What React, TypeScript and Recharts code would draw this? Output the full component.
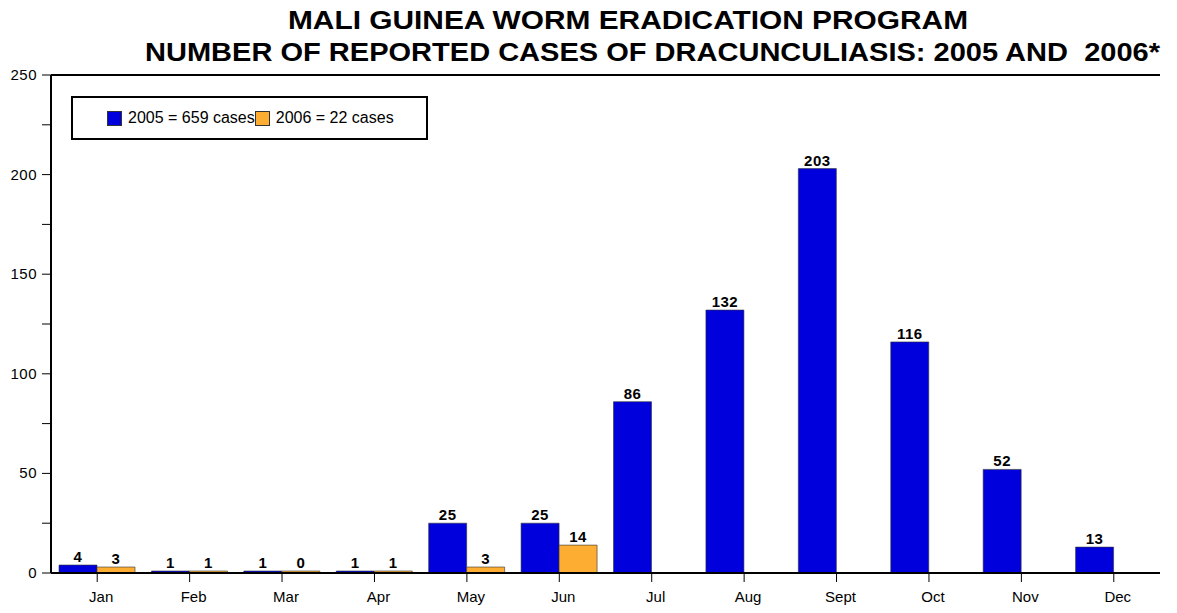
import { BarChart, Bar, XAxis, YAxis, ReferenceLine, LabelList, Legend } from 'recharts';

const MONTHS = ['Jan', 'Feb', 'Mar', 'Apr', 'May', 'Jun', 'Jul', 'Aug', 'Sept', 'Oct', 'Nov', 'Dec'];
const CASES_2005 = [4, 1, 1, 1, 25, 25, 86, 132, 203, 116, 52, 13];
const CASES_2006: (number | null)[] = [3, 1, 0, 1, 3, 14, null, null, null, null, null, null];
const Y_TICKS = [0, 25, 50, 75, 100, 125, 150, 175, 200, 225, 250];

const TITLE_1 = 'MALI GUINEA WORM ERADICATION PROGRAM';
const TITLE_2 = 'NUMBER OF REPORTED CASES OF DRACUNCULIASIS: 2005 AND  2006*';

const BLUE = '#0000dd';
const ORANGE = '#fdad31';
const FONT = 'Arial, "Liberation Sans", sans-serif';

const data = MONTHS.map((m, i) => ({ month: m, y2005: CASES_2005[i], y2006: CASES_2006[i] }));

function YTick({ x, y, payload }: any) {
  if (payload.value % 50 !== 0) return null;
  return (
    <text x={x} y={y} dy={5} textAnchor="end" fontSize={15} letterSpacing={0.5} fontFamily={FONT} fill="#000">
      {payload.value}
    </text>
  );
}

function XTick({ x, y, payload }: any) {
  return (
    <text x={x + 4} y={y} dy={12} textAnchor="middle" fontSize={15} fontFamily={FONT} fill="#000">
      {payload.value}
    </text>
  );
}

function LegendBox() {
  const swatch = (color: string) => (
    <span style={{ display: 'inline-block', width: 13, height: 13, background: color, border: '1px solid #333', marginRight: 6, verticalAlign: -2 }} />
  );
  return (
    <div style={{ width: 357, height: 44, border: '2px solid #000', boxSizing: 'border-box', background: '#fff', fontFamily: FONT, fontSize: 16, display: 'flex', alignItems: 'center', paddingLeft: 34 }}>
      {swatch(BLUE)}<span>2005 = 659 cases</span>
      {swatch(ORANGE)}<span>2006 = 22 cases</span>
    </div>
  );
}

export default function App() {
  return (
    <div style={{ position: 'relative', width: 1177, height: 613, margin: -8, background: '#fff' }}>
      <div style={{ position: 'absolute', top: 0, left: 0 }}>
        <BarChart width={1177} height={613} data={data} margin={{ top: 75, right: 17, left: 9, bottom: 0 }} barCategoryGap={8} barGap={0}>
          <XAxis
            dataKey="month"
            height={40}
            tickSize={9}
            tickMargin={8}
            axisLine={{ stroke: '#000', strokeWidth: 2 }}
            tickLine={{ stroke: '#000' }}
            tick={<XTick />}
            interval={0}
          />
          <YAxis
            yAxisId="left"
            width={42}
            domain={[0, 250]}
            ticks={Y_TICKS}
            interval={0}
            tickSize={9}
            tickMargin={5}
            axisLine={{ stroke: '#000', strokeWidth: 2 }}
            tickLine={{ stroke: '#000' }}
            tick={<YTick />}
          />
          <YAxis
            yAxisId="right"
            orientation="right"
            width={0}
            domain={[0, 250]}
            tick={false}
            tickLine={false}
            axisLine={{ stroke: '#000', strokeWidth: 2 }}
          />
          <ReferenceLine yAxisId="left" y={250} stroke="#000" strokeWidth={2} />
          <Legend
            layout="horizontal"
            verticalAlign="middle"
            align="center"
            wrapperStyle={{ position: 'absolute', top: 96, left: 71, width: 357 }}
            content={<LegendBox />}
          />
          <Bar yAxisId="left" dataKey="y2005" fill={BLUE} stroke="#333" strokeWidth={0.6} isAnimationActive={false}>
            <LabelList dataKey="y2005" position="top" offset={3} fontSize={15} letterSpacing={0.5} fontWeight="bold" fontFamily={FONT} fill="#000" />
          </Bar>
          <Bar
            yAxisId="left"
            dataKey="y2006"
            fill={ORANGE}
            stroke="#333"
            strokeWidth={0.6}
            minPointSize={(v: any) => (v === 0 ? 2 : 0)}
            isAnimationActive={false}
          >
            <LabelList dataKey="y2006" position="top" offset={3} fontSize={15} letterSpacing={0.5} fontWeight="bold" fontFamily={FONT} fill="#000" />
          </Bar>
        </BarChart>
      </div>
      <svg width={1177} height={70} style={{ position: 'absolute', top: 0, left: 0 }}>
        <text x={288} y={29} textLength={680} lengthAdjust="spacingAndGlyphs" fontFamily={FONT} fontWeight="bold" fontSize={26} fill="#000">
          {TITLE_1}
        </text>
        <text x={145} y={61} textLength={1015} lengthAdjust="spacingAndGlyphs" fontFamily={FONT} fontWeight="bold" fontSize={26} fill="#000" style={{ whiteSpace: 'pre' }}>
          {TITLE_2}
        </text>
      </svg>
    </div>
  );
}
